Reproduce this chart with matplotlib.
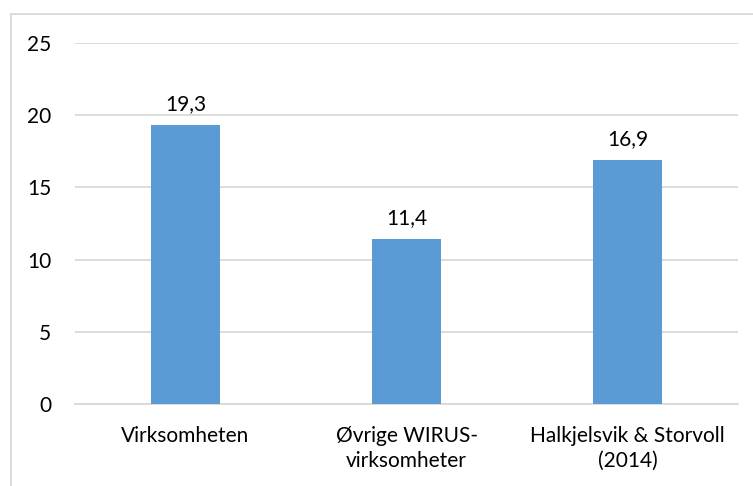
import matplotlib.pyplot as plt
from matplotlib.lines import Line2D

# Data
categories = ['Virksomheten', 'Øvrige WIRUS-\nvirksomheter', 'Halkjelsvik & Storvoll\n(2014)']
values = [19.3, 11.4, 16.9]
value_labels = ['19,3', '11,4', '16,9']
yticks = [0, 5, 10, 15, 20, 25]

plt.rcParams['font.family'] = ['Lato', 'DejaVu Sans']
fs = 15

fig = plt.figure(figsize=(7.53, 4.86), dpi=100)
ax = fig.add_axes([75 / 753, 1 - 404 / 486, 663 / 753, (404 - 43) / 486])

x = list(range(len(categories)))
bars = ax.bar(x, values, width=0.31, color='#5B9BD5', zorder=3)

for b, lab in zip(bars, value_labels):
    ax.annotate(lab, (b.get_x() + b.get_width() / 2, b.get_height()),
                xytext=(0, 8), textcoords='offset points',
                ha='center', va='bottom', fontsize=fs, color='#000000')

ax.set_xlim(-0.5, 2.5)
ax.set_ylim(0, 25)
ax.set_yticks(yticks)
ax.set_yticklabels([str(t) for t in yticks])
ax.set_xticks(x)
ax.set_xticklabels(categories, linespacing=1.3)
ax.tick_params(axis='both', length=0, labelsize=fs, colors='#000000')
ax.tick_params(axis='y', pad=17)
ax.tick_params(axis='x', pad=16)

ax.grid(axis='y', color='#D9D9D9', linewidth=1.3, zorder=0)
for s in ['top', 'right', 'left']:
    ax.spines[s].set_visible(False)
ax.spines['bottom'].set_color('#D9D9D9')
ax.spines['bottom'].set_linewidth(1.3)

# outer chart border (top and left visible)
fig.add_artist(Line2D([11 / 753, 1], [1 - 14 / 486, 1 - 14 / 486], color='#D9D9D9', linewidth=1.3))
fig.add_artist(Line2D([11 / 753, 11 / 753], [0, 1 - 14 / 486], color='#D9D9D9', linewidth=1.3))

fig.savefig('out.png', dpi=100)
